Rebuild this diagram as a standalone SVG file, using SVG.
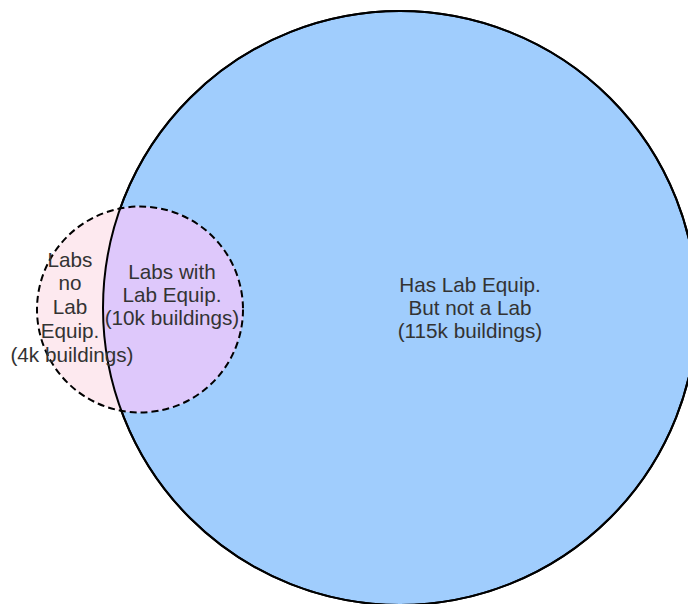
<svg xmlns="http://www.w3.org/2000/svg" width="688" height="604" viewBox="0 0 688 604">
<style>
text{font-family:"Liberation Sans",Arial,sans-serif;font-size:20.7px;fill:#333;text-anchor:middle}
.big{fill:#a0cdfd;stroke:#000;stroke-width:2}
.small{fill:#fde9ef;stroke:none}
.ov{fill:#dec8fb;stroke:none}
.dash{fill:none;stroke:#000;stroke-width:2;stroke-dasharray:7 4}
.line{fill:none;stroke:#000;stroke-width:2}
</style>
<defs>
<clipPath id="bigclip"><circle cx="400" cy="308" r="297"/></clipPath>
</defs>
<rect width="688" height="604" fill="#fff"/>
<g id="has-equip">
<circle class="big" cx="400" cy="308" r="297"/>
</g>
<g id="labs">
<circle class="small" cx="140" cy="309.5" r="103"/>
<circle class="ov" cx="140" cy="309.5" r="103" clip-path="url(#bigclip)"/>
<circle class="line" cx="400" cy="308" r="297"/>
<circle class="dash" cx="140" cy="309.5" r="103"/>
</g>
<g id="t-right">
<text x="470" y="292">Has Lab Equip.</text>
<text x="470" y="315">But not a Lab</text>
<text x="470" y="338">(115k buildings)</text>
</g>
<g id="t-mid">
<text x="172" y="279">Labs with</text>
<text x="172" y="302">Lab Equip.</text>
<text x="172" y="325">(10k buildings)</text>
</g>
<g id="t-left">
<text x="70" y="267">Labs</text>
<text x="70" y="290">no</text>
<text x="70" y="314">Lab</text>
<text x="70" y="338">Equip.</text>
<text x="72" y="362">(4k buildings)</text>
</g>
<g id="connectors"></g>
</svg>
